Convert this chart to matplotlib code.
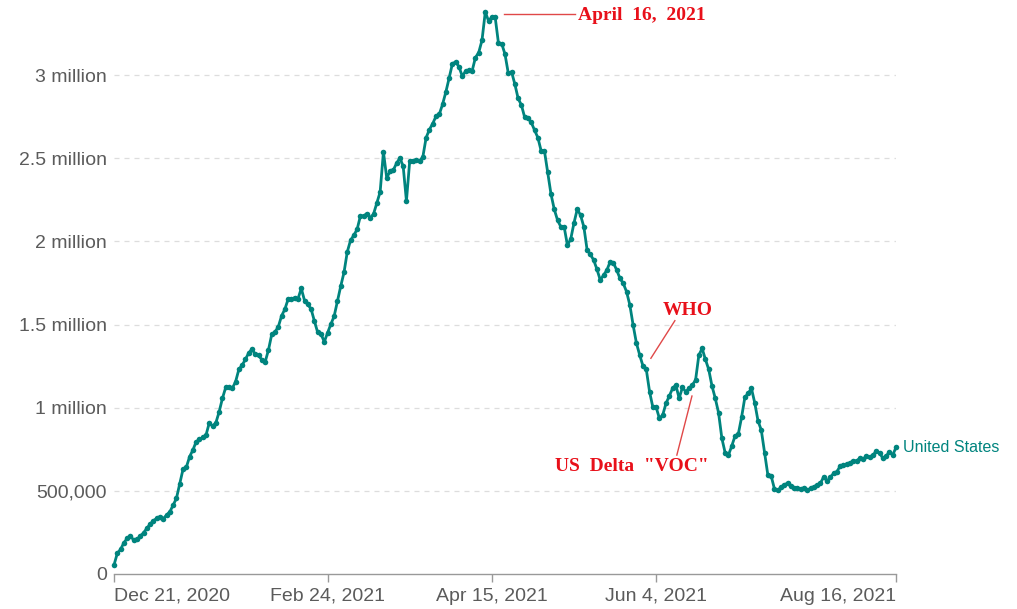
import matplotlib
matplotlib.use("Agg")
import matplotlib.pyplot as plt
import matplotlib.dates as mdates
import pandas as pd
import numpy as np

# ---- data (7-day average daily vaccinations, millions) ----
start_date = "2020-12-21"
values_m = [
    0.054, 0.124, 0.148, 0.188, 0.214, 0.228, 0.204, 0.208, 0.228, 0.248,
    0.275, 0.300, 0.320, 0.335, 0.344, 0.332, 0.355, 0.374, 0.415, 0.455,
    0.541, 0.629, 0.641, 0.705, 0.745, 0.795, 0.809, 0.821, 0.835, 0.909,
    0.889, 0.909, 0.975, 1.056, 1.122, 1.122, 1.116, 1.156, 1.230, 1.256,
    1.290, 1.330, 1.352, 1.320, 1.314, 1.288, 1.275, 1.346, 1.440, 1.456,
    1.486, 1.552, 1.592, 1.653, 1.655, 1.660, 1.655, 1.717, 1.643, 1.621,
    1.592, 1.520, 1.452, 1.442, 1.396, 1.450, 1.502, 1.550, 1.640, 1.730,
    1.813, 1.937, 2.007, 2.037, 2.073, 2.153, 2.153, 2.167, 2.141, 2.165,
    2.231, 2.297, 2.538, 2.382, 2.420, 2.428, 2.470, 2.501, 2.453, 2.243,
    2.483, 2.486, 2.491, 2.483, 2.508, 2.624, 2.672, 2.708, 2.752, 2.764,
    2.824, 2.898, 2.982, 3.069, 3.079, 3.049, 2.993, 3.023, 3.029, 3.025,
    3.105, 3.135, 3.209, 3.379, 3.325, 3.349, 3.349, 3.193, 3.189, 3.125,
    3.011, 3.019, 2.945, 2.859, 2.819, 2.745, 2.739, 2.715, 2.668, 2.624,
    2.544, 2.544, 2.414, 2.284, 2.192, 2.127, 2.087, 2.087, 1.977, 2.013,
    2.111, 2.194, 2.157, 2.087, 1.947, 1.921, 1.887, 1.831, 1.767, 1.797,
    1.827, 1.877, 1.871, 1.827, 1.777, 1.747, 1.697, 1.617, 1.496, 1.388,
    1.316, 1.250, 1.230, 1.096, 1.002, 1.002, 0.936, 0.956, 1.026, 1.070,
    1.116, 1.136, 1.056, 1.122, 1.096, 1.116, 1.136, 1.166, 1.316, 1.356,
    1.290, 1.230, 1.130, 1.056, 0.969, 0.816, 0.729, 0.715, 0.769, 0.829,
    0.841, 0.942, 1.062, 1.086, 1.116, 1.030, 0.921, 0.865, 0.729, 0.595,
    0.590, 0.512, 0.503, 0.521, 0.536, 0.547, 0.527, 0.520, 0.518, 0.509,
    0.519, 0.505, 0.515, 0.525, 0.535, 0.545, 0.585, 0.559, 0.581, 0.605,
    0.615, 0.649, 0.655, 0.661, 0.669, 0.679, 0.681, 0.695, 0.689, 0.709,
    0.701, 0.715, 0.739, 0.729, 0.695, 0.709, 0.735, 0.715, 0.761,
]
series_name = "United States"
x_tick_dates = ["2020-12-21", "2021-02-24", "2021-04-15", "2021-06-04", "2021-08-16"]
x_tick_labels = ["Dec 21, 2020", "Feb 24, 2021", "Apr 15, 2021", "Jun 4, 2021", "Aug 16, 2021"]
y_ticks = [0, 500000, 1000000, 1500000, 2000000, 2500000, 3000000]
y_tick_labels = ["0", "500,000", "1 million", "1.5 million", "2 million", "2.5 million", "3 million"]
annotations = ["April  16,  2021", "WHO", 'US  Delta  "VOC"']

dates = pd.date_range(start_date, periods=len(values_m), freq="D")
values = np.array(values_m) * 1e6

# ---- style ----
TEAL = "#00847e"
RED = "#e8101a"
LINE_RED = "#e04848"
GRAY_TXT = "#5b5b5b"
SANS = ["Liberation Sans", "DejaVu Sans"]
SERIF = ["Liberation Serif", "DejaVu Serif"]

W, H = 1017, 609
fig = plt.figure(figsize=(W / 100, H / 100), dpi=100)
left, right, bottom, top = 114, 896, 574, 8.5
ax = fig.add_axes([left / W, (H - bottom) / H, (right - left) / W, (bottom - top) / H])

ax.plot(dates, values, color=TEAL, lw=2.0, marker="o", ms=4.0,
        markeredgewidth=0, clip_on=False, zorder=3)

ax.set_xlim(dates[0], dates[-1])
ax.set_ylim(0, 3.4e6)

# grid
for yv in y_ticks[1:]:
    ax.axhline(yv, color="#dddddd", lw=0.9, ls=(0, (4, 4)), zorder=1)

ax.set_yticks(y_ticks)
ax.set_yticklabels(y_tick_labels, fontsize=14, color=GRAY_TXT, family=SANS)
ax.tick_params(axis="y", length=0, pad=5)

tick_pos = pd.to_datetime(x_tick_dates)
ax.set_xticks(tick_pos)
ax.set_xticklabels(x_tick_labels, fontsize=14, color=GRAY_TXT, family=SANS)
ax.tick_params(axis="x", length=6, color="#999999", width=1, pad=4)
labels = ax.get_xticklabels()
labels[0].set_horizontalalignment("left")
labels[-1].set_horizontalalignment("right")

for s in ["top", "right", "left"]:
    ax.spines[s].set_visible(False)
ax.spines["bottom"].set_color("#999999")
ax.spines["bottom"].set_linewidth(1)

# series label
ax.annotate(series_name, xy=(dates[-1], values[-1]), xytext=(5, 0),
            textcoords="offset points", va="center", ha="left",
            color=TEAL, fontsize=11.5, family=SANS, annotation_clip=False)

def d(day):
    return mdates.date2num(dates[0]) + day

# April annotation
ax.plot([d(118.7), d(140.3)], [3.365e6, 3.365e6], color=LINE_RED, lw=1, clip_on=False)
ax.text(d(141.2), 3.36e6, annotations[0], color=RED, fontsize=14, fontweight="bold",
        family=SERIF, va="center", ha="left")

# WHO annotation
ax.plot([d(163.4), d(170.7)], [1.297e6, 1.523e6], color=LINE_RED, lw=1)
ax.text(d(174.7), 1.587e6, annotations[1], color=RED, fontsize=14, fontweight="bold",
        family=SERIF, va="center", ha="center")

# Delta annotation
ax.plot([d(175.9), d(171.3)], [1.07e6, 0.715e6], color=LINE_RED, lw=1)
ax.text(d(157.6), 0.649e6, annotations[2], color=RED, fontsize=14, fontweight="bold",
        family=SERIF, va="center", ha="center")

fig.savefig("out.png", dpi=100, facecolor="white")
